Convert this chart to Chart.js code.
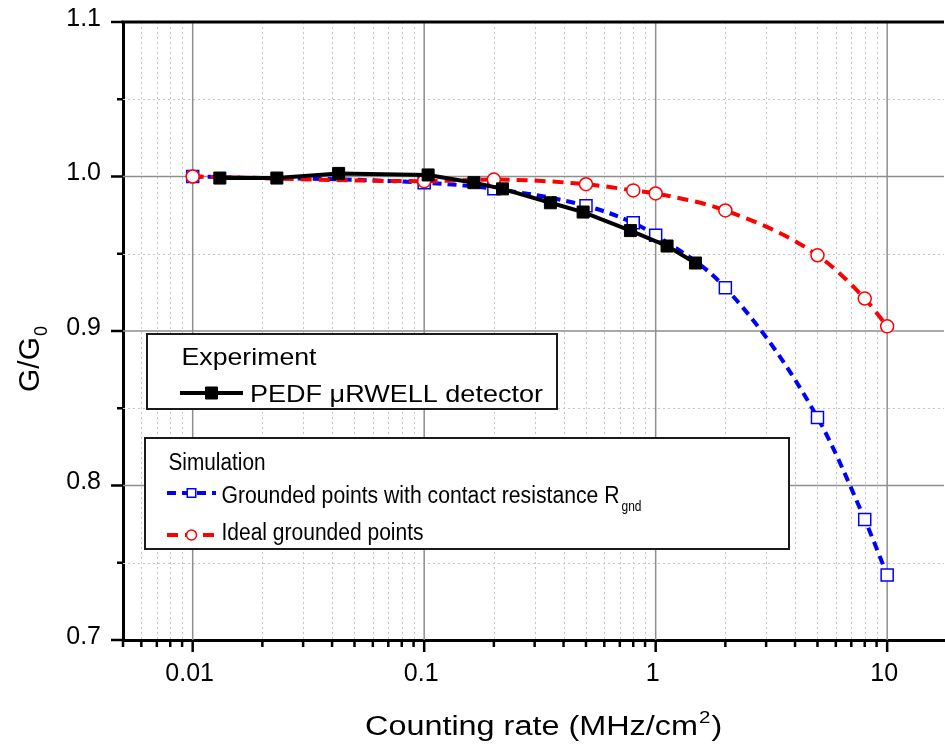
<!DOCTYPE html>
<html>
<head>
<meta charset="utf-8">
<script src="https://cdn.jsdelivr.net/npm/chart.js@4"></script>
<style>
  html, body { margin: 0; padding: 0; background: #fff; overflow: hidden; }
  #wrap { width: 954px; height: 746px; position: relative; }
</style>
</head>
<body>
<div id="wrap"><canvas id="gainChart"></canvas></div>
<script>
// Experiment: PEDF uRWELL detector
const expRate = [0.0131, 0.0231, 0.0427, 0.104, 0.164, 0.218, 0.351, 0.486, 0.778, 1.12, 1.486];
const expGain = [0.999, 0.999, 1.002, 1.001, 0.996, 0.992, 0.983, 0.977, 0.965, 0.955, 0.944];

// Simulation
const simRate  = [0.01, 0.1, 0.2, 0.5, 0.8, 1, 2, 5, 8, 10];
const simGnd   = [1.000, 0.996, 0.992, 0.981, 0.970, 0.962, 0.928, 0.844, 0.778, 0.742];
const simIdeal = [1.000, 0.997, 0.998, 0.995, 0.991, 0.989, 0.978, 0.949, 0.921, 0.903];

// Axes
const xMajor = [0.01, 0.1, 1, 10];
const yMajor = [0.7, 0.8, 0.9, 1.0, 1.1];
const X_MIN = 0.005, X_MAX = 17.6;
const Y_MIN = 0.7, Y_MAX = 1.1;

const FONT = "'Liberation Sans', Arial, Helvetica, sans-serif";

function isMajorX(v) {
  return xMajor.some(m => Math.abs(Math.log10(v) - Math.log10(m)) < 1e-6);
}
function isMajorY(v) {
  return yMajor.some(m => Math.abs(v - m) < 1e-6);
}

// log ticks 1..9 per decade
const xTickVals = [];
for (let e = -3; e <= 1; e++) {
  for (let m = 1; m <= 9; m++) {
    const v = Number((m * Math.pow(10, e)).toPrecision(3));
    if (v >= X_MIN && v <= X_MAX) xTickVals.push(v);
  }
}

function toPoints(xs, ys) {
  return xs.map((x, i) => ({ x, y: ys[i] }));
}

// text squeezed / stretched to a given width
function fitText(ctx, text, x, y, size, width) {
  ctx.font = size + "px " + FONT;
  const w = ctx.measureText(text).width;
  ctx.save();
  ctx.translate(x, y);
  ctx.scale(width / w, 1);
  ctx.fillText(text, 0, 0);
  ctx.restore();
}

// gridlines + tick marks + top frame
const framePlugin = {
  id: "frame",
  beforeDatasetsDraw(chart) {
    const { ctx, chartArea: a, scales: { x, y } } = chart;
    ctx.save();

    // minor grid (dotted)
    ctx.strokeStyle = "#c4c4c4";
    ctx.lineWidth = 1;
    ctx.setLineDash([2, 3]);
    ctx.beginPath();
    x.ticks.forEach(t => {
      if (isMajorX(t.value) || t.value <= X_MIN) return;
      const px = Math.round(x.getPixelForValue(t.value)) + 0.5;
      ctx.moveTo(px, a.top); ctx.lineTo(px, a.bottom);
    });
    y.ticks.forEach(t => {
      if (isMajorY(t.value)) return;
      const py = Math.round(y.getPixelForValue(t.value)) + 0.5;
      ctx.moveTo(a.left, py); ctx.lineTo(a.right, py);
    });
    ctx.stroke();

    // major grid
    ctx.setLineDash([]);
    ctx.strokeStyle = "#8f8f8f";
    ctx.lineWidth = 1.5;
    ctx.beginPath();
    x.ticks.forEach(t => {
      if (!isMajorX(t.value)) return;
      const px = x.getPixelForValue(t.value);
      ctx.moveTo(px, a.top); ctx.lineTo(px, a.bottom);
    });
    y.ticks.forEach(t => {
      if (!isMajorY(t.value) || t.value <= Y_MIN + 1e-6 || t.value >= Y_MAX - 1e-6) return;
      const py = y.getPixelForValue(t.value);
      ctx.moveTo(a.left, py); ctx.lineTo(a.right, py);
    });
    ctx.stroke();

    // tick marks, outward
    ctx.strokeStyle = "#000";
    ctx.lineWidth = 2.5;
    ctx.beginPath();
    x.ticks.forEach(t => {
      const px = x.getPixelForValue(t.value);
      const len = isMajorX(t.value) ? 12 : 7;
      ctx.moveTo(px, a.bottom); ctx.lineTo(px, a.bottom + len);
    });
    y.ticks.forEach(t => {
      const py = y.getPixelForValue(t.value);
      const len = isMajorY(t.value) ? 12 : 6;
      ctx.moveTo(a.left, py); ctx.lineTo(a.left - len, py);
    });
    ctx.stroke();

    // top frame line
    ctx.lineWidth = 3;
    ctx.beginPath();
    ctx.moveTo(a.left - 1.5, a.top);
    ctx.lineTo(a.right, a.top);
    ctx.stroke();
    ctx.restore();
  }
};

function drawSample(ctx, ds, x0, x1, yc, radius) {
  ctx.save();
  ctx.strokeStyle = ds.borderColor;
  ctx.lineWidth = ds.borderWidth;
  ctx.setLineDash(ds.borderDash || []);
  ctx.beginPath();
  ctx.moveTo(x0, yc);
  ctx.lineTo(x1, yc);
  ctx.stroke();
  ctx.setLineDash([]);
  ctx.fillStyle = ds.pointBackgroundColor;
  ctx.strokeStyle = ds.pointBorderColor;
  ctx.lineWidth = ds.pointBorderWidth;
  Chart.helpers.drawPoint(ctx, {
    pointStyle: ds.pointStyle, radius: radius, borderWidth: ds.pointBorderWidth, rotation: 0
  }, (x0 + x1) / 2, yc);
  ctx.restore();
}

// axis titles + the two legend boxes
const annotatePlugin = {
  id: "annotate",
  afterDraw(chart) {
    const { ctx } = chart;
    const ds = chart.data.datasets;
    ctx.save();
    ctx.fillStyle = "#000";
    ctx.textBaseline = "alphabetic";
    ctx.textAlign = "left";

    // x title with superscript
    const t1 = "Counting rate (MHz/cm", t3 = ")";
    ctx.font = "27px " + FONT;
    const w1 = ctx.measureText(t1).width, w3 = ctx.measureText(t3).width;
    ctx.font = "17px " + FONT;
    const w2 = ctx.measureText("2").width;
    const sx = 355 / (w1 + w2 + w3);
    ctx.save();
    ctx.translate(365, 735);
    ctx.scale(sx, 1);
    ctx.font = "27px " + FONT;
    ctx.fillText(t1, 0, 0);
    ctx.font = "17px " + FONT;
    ctx.fillText("2", w1 + 1, -12);
    ctx.font = "27px " + FONT;
    ctx.fillText(t3, w1 + w2 + 2, 0);
    ctx.restore();

    // y title with subscript
    ctx.save();
    ctx.translate(39, 392);
    ctx.rotate(-Math.PI / 2);
    ctx.font = "30px " + FONT;
    ctx.fillText("G/G", 0, 0);
    const wg = ctx.measureText("G/G").width;
    ctx.font = "18px " + FONT;
    ctx.fillText("0", wg + 1, 8);
    ctx.restore();

    // Experiment box
    ctx.lineWidth = 2;
    ctx.strokeStyle = "#1a1a1a";
    ctx.fillStyle = "#fff";
    ctx.fillRect(147, 334, 410, 75);
    ctx.strokeRect(147, 334, 410, 75);
    ctx.fillStyle = "#000";
    fitText(ctx, "Experiment", 181.5, 365, 24, 135);
    drawSample(ctx, ds[0], 180, 243, 393, 8.5);
    ctx.fillStyle = "#000";
    fitText(ctx, "PEDF \u03bcRWELL detector", 250, 402, 24, 293);

    // Simulation box
    ctx.lineWidth = 2;
    ctx.strokeStyle = "#1a1a1a";
    ctx.fillStyle = "#fff";
    ctx.fillRect(145, 438, 644, 111);
    ctx.strokeRect(145, 438, 644, 111);
    ctx.fillStyle = "#000";
    fitText(ctx, "Simulation", 168.5, 470, 23, 97);
    drawSample(ctx, ds[2], 167, 216, 493, 6);
    ctx.fillStyle = "#000";
    fitText(ctx, "Grounded points with contact resistance R", 221.5, 503, 23, 398);
    fitText(ctx, "gnd", 621.5, 511, 14, 20);
    drawSample(ctx, ds[1], 167, 216, 535, 5);
    ctx.fillStyle = "#000";
    fitText(ctx, "Ideal grounded points", 221.5, 540, 23, 202);
    ctx.restore();
  }
};

Chart.defaults.font.family = FONT;
Chart.defaults.color = "#000";

new Chart(document.getElementById("gainChart"), {
  type: "line",
  data: {
    datasets: [
      {
        label: "PEDF \u03bcRWELL detector",
        data: toPoints(expRate, expGain),
        borderColor: "#000",
        backgroundColor: "#000",
        borderWidth: 4,
        tension: 0,
        pointStyle: "rect",
        pointRadius: 8.5,
        pointBackgroundColor: "#000",
        pointBorderColor: "#000",
        pointBorderWidth: 1
      },
      {
        label: "Ideal grounded points",
        data: toPoints(simRate, simIdeal),
        borderColor: "#ff0000",
        backgroundColor: "#ff0000",
        borderWidth: 4,
        borderDash: [11, 7],
        cubicInterpolationMode: "monotone",
        pointStyle: "circle",
        pointRadius: 6.5,
        pointBackgroundColor: "#fff",
        pointBorderColor: "#ff0000",
        pointBorderWidth: 1.5
      },
      {
        label: "Grounded points with contact resistance R_gnd",
        data: toPoints(simRate, simGnd),
        borderColor: "#0000ff",
        backgroundColor: "#0000ff",
        borderWidth: 4,
        borderDash: [9, 6],
        cubicInterpolationMode: "monotone",
        pointStyle: "rect",
        pointRadius: 8.5,
        pointBackgroundColor: "#fff",
        pointBorderColor: "#0000ff",
        pointBorderWidth: 1.5
      }
    ]
  },
  options: {
    responsive: true,
    maintainAspectRatio: false,
    animation: false,
    layout: { padding: { top: 22, right: 0, bottom: 0, left: 0 } },
    plugins: {
      legend: { display: false },
      tooltip: { enabled: false }
    },
    scales: {
      x: {
        type: "logarithmic",
        min: X_MIN,
        max: X_MAX,
        afterBuildTicks: s => { s.ticks = xTickVals.map(v => ({ value: v })); },
        afterFit: s => { s.height = 106; s.paddingLeft = 0; s.paddingRight = 0; },
        ticks: {
          autoSkip: false,
          maxRotation: 0,
          padding: 19,
          labelOffset: -3,
          font: { size: 25 },
          color: "#000",
          callback: v => isMajorX(v) ? String(v) : ""
        },
        grid: { display: false, drawTicks: false },
        border: { display: true, color: "#000", width: 3 }
      },
      y: {
        type: "linear",
        min: Y_MIN,
        max: Y_MAX,
        afterFit: s => { s.width = 123; s.paddingTop = 0; s.paddingBottom = 0; },
        ticks: {
          stepSize: 0.05,
          padding: 22,
          labelOffset: -3,
          font: { size: 25 },
          color: "#000",
          callback: v => isMajorY(v) ? v.toFixed(1) : ""
        },
        grid: { display: false, drawTicks: false },
        border: { display: true, color: "#000", width: 3 }
      }
    }
  },
  plugins: [framePlugin, annotatePlugin]
});
</script>
</body>
</html>
